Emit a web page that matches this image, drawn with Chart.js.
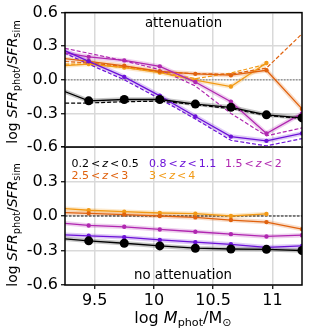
<!DOCTYPE html>
<html>
<head>
<meta charset="UTF-8">
<script src="https://cdn.jsdelivr.net/npm/chart.js"></script>
<style>
  body { margin: 0; background: #fff; }
  #wrap { position: relative; width: 311px; height: 333px; }
  canvas { position: absolute; left: 0; }
</style>
</head>
<body>
<div id="wrap">
  <canvas id="top" width="311" height="165" style="top:0"></canvas>
  <canvas id="bottom" width="311" height="216" style="top:117px"></canvas>
</div>
<script>
// log M_phot bin centres (first one sits left of the visible range)
const massBins = [9.15, 9.45, 9.75, 10.05, 10.35, 10.65, 10.95, 11.25];
const xTicks = [9.5, 10, 10.5, 11];
const yTicks = [-0.6, -0.3, 0.0, 0.3, 0.6];

const binLabels = ['0.2 < z < 0.5', '0.8 < z < 1.1', '1.5 < z < 2', '2.5 < z < 3', '3 < z < 4'];
const binColors = ['#000000', '#6c12d8', '#b027b0', '#e0620e', '#f29a16'];

// attenuation panel: solid and dashed curves per redshift bin
const att_z0 = [-0.065, -0.188, -0.176, -0.176, -0.217, -0.246, -0.313, -0.34];
const att_z0_dash = [-0.21, -0.207, -0.196, -0.19, -0.222, -0.258, -0.318, -0.345];
const att_z1 = [0.307, 0.165, 0.026, -0.143, -0.328, -0.507, -0.545, -0.478];
const att_z1_dash = [0.285, 0.14, 0.0, -0.17, -0.35, -0.54, -0.59, -0.525];
const att_z2 = [0.257, 0.205, 0.173, 0.12, -0.02, -0.196, -0.48, -0.3];
const att_z2_dash = [0.303, 0.237, 0.17, 0.09, -0.055, -0.3, -0.5, -0.43];
const att_z3 = [0.2, 0.165, 0.125, 0.075, 0.053, 0.041, 0.085, -0.26];
const att_z3_dash = [0.17, 0.15, 0.12, 0.07, 0.055, 0.05, 0.105, 0.41];
const att_z4 = [0.12, 0.14, 0.11, 0.065, -0.003, -0.06, 0.15, null];
const att_z4_dash = [0.14, 0.14, 0.11, 0.07, 0.01, 0.06, 0.14, null];

// no attenuation panel
const noatt_z0 = [-0.19, -0.216, -0.237, -0.26, -0.28, -0.287, -0.29, -0.3];
const noatt_z1 = [-0.16, -0.172, -0.184, -0.208, -0.228, -0.246, -0.272, -0.26];
const noatt_z2 = [-0.055, -0.082, -0.094, -0.117, -0.137, -0.158, -0.178, -0.167];
const noatt_z3 = [0.032, 0.023, 0.012, 0.0, -0.012, -0.035, -0.053, -0.114];
const noatt_z4 = [0.071, 0.05, 0.038, 0.026, 0.02, 0.0, 0.018, null];

Chart.defaults.font.family = 'DejaVu Sans';

function pts(vals) {
  return massBins.map((m, i) => ({ x: m, y: vals[i] }));
}

function alpha(hex, a) {
  const n = parseInt(hex.slice(1), 16);
  return `rgba(${n >> 16},${(n >> 8) & 255},${n & 255},${a})`;
}

function solid(vals, i) {
  return {
    data: pts(vals), borderColor: binColors[i], backgroundColor: binColors[i],
    borderWidth: 1.3, pointRadius: i === 0 ? 4.5 : 2.2, pointBorderWidth: 0,
    order: i === 0 ? 0 : 1
  };
}
function halo(vals, i) {
  return {
    data: pts(vals), borderColor: alpha(binColors[i], 0.22), borderWidth: 4.5,
    pointRadius: 0, order: 5
  };
}
function dashed(vals, i) {
  return {
    data: pts(vals), borderColor: binColors[i], borderWidth: 1.2,
    borderDash: [4, 2], pointRadius: 0, order: 2
  };
}
function zeroLine(color, width, dash) {
  return {
    data: [{ x: 9.25, y: 0 }, { x: 11.25, y: 0 }], borderColor: color,
    borderWidth: width, borderDash: dash, pointRadius: 0, order: 3
  };
}

function fmt(v) {
  return Math.abs(v) < 1e-9 ? '0.0' : v.toFixed(1);
}

// draws text made of pieces (italic, subscript, gaps)
function drawRich(ctx, segs, x, y, size, rot, color, align) {
  ctx.save();
  ctx.translate(x, y);
  ctx.rotate(rot);
  ctx.textBaseline = 'alphabetic';
  const fontOf = s => (s.it ? 'italic ' : '') + (s.sub ? size * 0.7 : size) + 'px DejaVu Sans';
  let total = 0;
  const ws = segs.map(s => {
    ctx.font = fontOf(s);
    const w = ctx.measureText(s.t).width + (s.gap || 0) * 2;
    total += w;
    return w;
  });
  let cx = align === 'left' ? 0 : -total / 2;
  segs.forEach((s, i) => {
    ctx.font = fontOf(s);
    ctx.fillStyle = color;
    ctx.textAlign = 'left';
    ctx.fillText(s.t, cx + (s.gap || 0), s.sub ? size * 0.22 : 0);
    cx += ws[i];
  });
  ctx.restore();
}

function zSegs(label) {
  const parts = label.split(' ');
  return parts.map(p => p === 'z' ? { t: 'z', it: true } : p === '<' ? { t: '<', gap: 2 } : { t: p });
}

const yTitle = [
  { t: 'log ' }, { t: 'SFR', it: true }, { t: 'phot', sub: true },
  { t: '/' }, { t: 'SFR', it: true }, { t: 'sim', sub: true }
];

function frame(chart) {
  const a = chart.chartArea, ctx = chart.ctx;
  ctx.save();
  ctx.strokeStyle = '#000';
  ctx.lineWidth = 1.5;
  ctx.strokeRect(a.left, a.top, a.right - a.left, a.bottom - a.top);
  ctx.restore();
}

const gridOpts = { color: '#d9d9d9', lineWidth: 1.5, tickColor: '#000', tickLength: 4, tickWidth: 1.2 };

function scales(showX, xHeight, hideTop) {
  return {
    x: {
      type: 'linear', min: 9.25, max: 11.25,
      afterBuildTicks: s => { s.ticks = xTicks.map(v => ({ value: v })); },
      afterFit: s => { s.height = xHeight; },
      grid: Object.assign({}, gridOpts, { drawTicks: showX }),
      border: { display: false },
      ticks: { display: showX, color: '#000', font: { size: 16 }, padding: 2, maxRotation: 0,
        callback: v => String(+v.toFixed(1)) }
    },
    y: {
      type: 'linear', min: -0.6, max: 0.6,
      afterBuildTicks: s => { s.ticks = yTicks.map(v => ({ value: v })); },
      afterFit: s => { s.width = 65; },
      grid: gridOpts,
      border: { display: false },
      ticks: { color: '#000', font: { size: 16 }, padding: 3,
        callback: v => (hideTop && v > 0.55) ? '' : fmt(v) }
    }
  };
}

const topText = {
  id: 'topText',
  afterDraw(chart) {
    const ctx = chart.ctx;
    frame(chart);
    ctx.save();
    ctx.font = '13.3px DejaVu Sans';
    ctx.fillStyle = '#000';
    ctx.textAlign = 'center';
    ctx.fillText('attenuation', 183.5, 26.5);
    ctx.restore();
    drawRich(ctx, yTitle, 17, 82, 14, -Math.PI / 2, '#000');
  }
};

const BOT = 117;
const bottomText = {
  id: 'bottomText',
  afterDraw(chart) {
    const ctx = chart.ctx;
    frame(chart);
    const rows = [[0, 71.5, 166.5], [1, 149, 166.5], [2, 225, 166.5], [3, 71.5, 179], [4, 149, 179]];
    rows.forEach(([i, x, y]) => drawRich(ctx, zSegs(binLabels[i]), x, y - BOT, 11, 0, binColors[i], 'left'));
    ctx.save();
    ctx.font = '13.3px DejaVu Sans';
    ctx.fillStyle = '#000';
    ctx.textAlign = 'center';
    ctx.fillText('no attenuation', 183, 279 - BOT);
    ctx.restore();
    drawRich(ctx, yTitle, 17, 225 - BOT, 14, -Math.PI / 2, '#000');
    drawRich(ctx, [
      { t: 'log ' }, { t: 'M', it: true }, { t: 'phot', sub: true },
      { t: '/M' }, { t: '\u2299', sub: true }
    ], 183, 322.5 - BOT, 16, 0, '#000');
  }
};

const attSets = [att_z0, att_z1, att_z2, att_z3, att_z4];
const attDash = [att_z0_dash, att_z1_dash, att_z2_dash, att_z3_dash, att_z4_dash];
const noattSets = [noatt_z0, noatt_z1, noatt_z2, noatt_z3, noatt_z4];

const topDatasets = [];
attSets.forEach((v, i) => topDatasets.push(solid(v, i)));
attDash.forEach((v, i) => topDatasets.push(dashed(v, i)));
attSets.forEach((v, i) => topDatasets.push(halo(v, i)));
topDatasets.push(zeroLine('#999999', 1.5, [1.5, 1.5]));

const botDatasets = [];
noattSets.forEach((v, i) => botDatasets.push(solid(v, i)));
noattSets.forEach((v, i) => botDatasets.push(halo(v, i)));
botDatasets.push(zeroLine('#000000', 0.9, [2.5, 1.5]));

new Chart(document.getElementById('top'), {
  type: 'line',
  data: { datasets: topDatasets },
  options: {
    responsive: false, animation: false,
    layout: { padding: { top: 11, right: 9, left: 0, bottom: 0 } },
    plugins: { legend: { display: false }, tooltip: { enabled: false } },
    scales: scales(false, 18, false)
  },
  plugins: [topText]
});

new Chart(document.getElementById('bottom'), {
  type: 'line',
  data: { datasets: botDatasets },
  options: {
    responsive: false, animation: false,
    layout: { padding: { top: 30, right: 9, left: 0, bottom: 0 } },
    plugins: { legend: { display: false }, tooltip: { enabled: false } },
    scales: scales(true, 48, true)
  },
  plugins: [bottomText]
});
</script>
</body>
</html>
